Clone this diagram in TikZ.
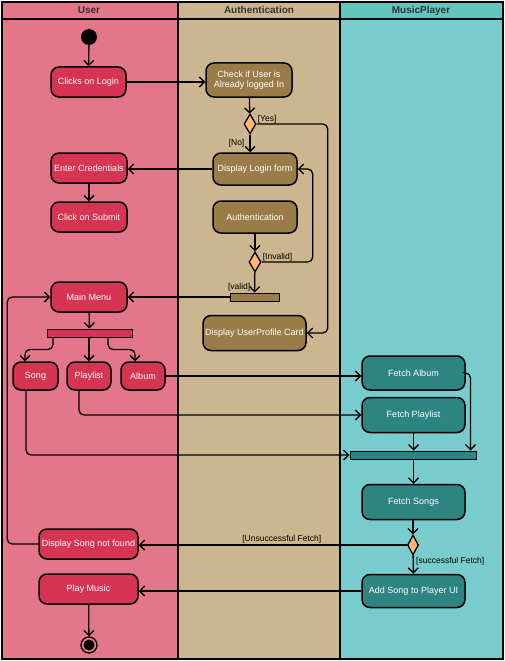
\documentclass[tikz,border=0pt]{standalone}
\usepackage{fontspec}
\setmainfont{Liberation Sans}
\usetikzlibrary{arrows.meta,shapes.geometric}

\definecolor{userlane}{RGB}{227,119,137}
\definecolor{userfill}{RGB}{213,52,82}
\definecolor{authlane}{RGB}{203,182,143}
\definecolor{authfill}{RGB}{154,124,72}
\definecolor{playerlane}{RGB}{120,204,205}
\definecolor{playerhead}{RGB}{99,198,190}
\definecolor{playerfill}{RGB}{46,131,131}
\definecolor{decfill}{RGB}{255,183,115}
\definecolor{headtext}{RGB}{51,51,51}

\begin{document}
\begin{tikzpicture}[x=1pt, y=-1pt,
	action/.style={rectangle, rounded corners=8pt, draw, line width=1.5pt, text=white, font=\fontsize{9}{10.5}\selectfont, inner sep=1pt, align=center},
	user_node/.style={action, fill=userfill},
	auth_node/.style={action, fill=authfill},
	player_node/.style={action, fill=playerfill},
	decision/.style={diamond, draw, line width=1.3pt, fill=decfill, inner sep=0pt, minimum width=12pt, minimum height=20pt},
	syncbar/.style={rectangle, draw, line width=1pt, inner sep=0pt, minimum height=8pt},
	guard/.style={font=\fontsize{8.5}{9}\selectfont, text=black, inner sep=1pt},
	lanehead/.style={font=\fontsize{10}{11}\selectfont\bfseries, text=headtext, text height=7.5pt, text depth=2pt, inner sep=0pt},
	flow/.style={line width=1.3pt, rounded corners=5pt, -{Straight Barb[length=5pt, width=10pt]}}]
				\useasboundingbox (0,0) rectangle (505,661);
				% swimlanes
				\fill[userlane] (2,2) rectangle (178,659);
				\fill[authlane] (178,2) rectangle (340,659);
				\fill[playerlane] (340,19) rectangle (503,659);
				\fill[playerhead] (340,2) rectangle (503,19);
				\draw[line width=1.5pt] (2,2) rectangle (503,659);
				\draw[line width=1.5pt] (2,19) -- (503,19);
				\draw[line width=1.5pt] (178,2) -- (178,659);
				\draw[line width=1.5pt] (340,2) -- (340,659);
				\node[lanehead] (hUser) at (89,11) {User};
				\node[lanehead] (hAuth) at (259,11) {Authentication};
				\node[lanehead] (hPlayer) at (421,11) {MusicPlayer};
				% actions
				\node[circle, fill=black, minimum size=16pt, inner sep=0pt] (start) at (89,37) {};
				\node[user_node, minimum width=75pt, minimum height=30pt] (login) at (88.5,82) {Clicks on Login};
				\node[auth_node, minimum width=86pt, minimum height=34pt] (check) at (249,80) {Check if User is\\Already logged In};
				\node[decision] (dec1) at (250,124) {};
				\node[auth_node, minimum width=84pt, minimum height=32pt] (loginform) at (255,169) {Display Login form};
				\node[user_node, minimum width=76pt, minimum height=30pt] (creds) at (89,168) {Enter Credentials};
				\node[user_node, minimum width=76pt, minimum height=30pt] (submit) at (89,217) {Click on Submit};
				\node[auth_node, minimum width=84pt, minimum height=32pt] (auth) at (255,217) {Authentication};
				\node[decision] (dec2) at (255,262) {};
				\node[syncbar, fill=authfill, minimum width=49pt] (validbar) at (254.5,297) {};
				\node[user_node, minimum width=76pt, minimum height=30pt] (mainmenu) at (89,297) {Main Menu};
				\node[auth_node, minimum width=103pt, minimum height=35pt] (profile) at (254.5,333) {Display UserProfile Card};
				\node[syncbar, fill=userfill, minimum width=85pt] (menubar) at (89.5,333) {};
				\node[user_node, minimum width=45pt, minimum height=28pt] (song) at (35.5,376) {Song};
				\node[user_node, minimum width=44pt, minimum height=28pt] (playlist) at (89,376) {Playlist};
				\node[user_node, minimum width=44pt, minimum height=28pt] (album) at (143,376) {Album};
				\node[player_node, minimum width=103pt, minimum height=34pt] (fetchalbum) at (413.5,373) {Fetch Album};
				\node[player_node, minimum width=103pt, minimum height=35pt] (fetchplaylist) at (413.5,415) {Fetch Playlist};
				\node[syncbar, fill=playerfill, minimum width=126pt] (joinbar) at (413,455) {};
				\node[player_node, minimum width=103pt, minimum height=35pt] (fetchsongs) at (413.5,502) {Fetch Songs};
				\node[decision, minimum width=11pt] (dec3) at (413,545) {};
				\node[user_node, minimum width=99pt, minimum height=30pt] (notfound) at (88.5,544) {Display Song not found};
				\node[player_node, minimum width=103pt, minimum height=33pt] (addsong) at (413.5,591) {Add Song to Player UI};
				\node[user_node, minimum width=99pt, minimum height=30pt] (playmusic) at (88.5,589) {Play Music};
				\node[circle, draw, line width=1.3pt, minimum size=16pt, inner sep=0pt, path picture={\fill[black] (path picture bounding box.center) circle (5.5pt);}] (finish) at (89,645) {};
				% guards
				\node[guard, anchor=south west] (gYes) at (dec1.east) {[Yes]};
				\node[guard, anchor=south west] (gInvalid) at (dec2.east) {[Invalid]};
				\node[guard, anchor=south east] (gValid) at ([xshift=-3pt]validbar.north) {[valid]};
				\node[guard, anchor=north west] (gSuccess) at ([xshift=2pt]dec3.south) {[successful Fetch]};
				% flows
				\draw[flow] (start) -- (login);
				\draw[flow] (login.east) -- (login.east -| check.west);
				\draw[flow] (check) -- (dec1);
				\draw[flow] (dec1.east) -| ([xshift=21pt]profile.east) -- (profile.east);
				\draw[flow] (dec1.south) -- node[guard, left=4pt, midway] {[No]} (dec1.south |- loginform.north);
				\draw[flow] (loginform.west) -- (loginform.west -| creds.east);
				\draw[flow] (creds) -- (submit);
				\draw[flow] (auth) -- (dec2);
				\draw[flow] (dec2.east) -| ([xshift=15pt]loginform.east) -- (loginform.east);
				\draw[flow] (dec2) -- (validbar);
				\draw[flow] (validbar.west) -- (mainmenu.east);
				\draw[flow] (mainmenu) -- (menubar);
				\draw[flow] ([xshift=-36.5pt]menubar.south) -- ++(0,12) -| ([xshift=-10.5pt]song.north);
				\draw[flow] (menubar.south -| playlist) -- (playlist.north);
				\draw[flow] ([xshift=18.5pt]menubar.south) -- ++(0,12) -| ([xshift=-8pt]album.north);
				\draw[flow] (album.east) -- (album.east -| fetchalbum.west);
				\draw[flow] ([xshift=-10pt]playlist.south) |- (fetchplaylist.west);
				\draw[flow] ([xshift=-9.5pt]song.south) |- (joinbar.west);
				\draw[flow] (fetchalbum.east) -| ([xshift=-6pt]joinbar.north east);
				\draw[flow] (fetchplaylist) -- (fetchplaylist |- joinbar.north);
				\draw[flow] (joinbar.south -| fetchsongs) -- (fetchsongs.north);
				\draw[flow] (fetchsongs.south -| dec3) -- (dec3.north);
				\draw[flow] (dec3.west) -- node[guard, above, midway, xshift=9pt] {[Unsuccessful Fetch]} (dec3.west -| notfound.east);
				\draw[flow] (dec3) -- (addsong);
				\draw[flow] (addsong.west) -- (addsong.west -| playmusic.east);
				\draw[flow] (notfound.west) -| ([xshift=-43pt]mainmenu.west) -- (mainmenu.west);
				\draw[flow] (playmusic) -- (finish);
			\end{tikzpicture}
\end{document}
